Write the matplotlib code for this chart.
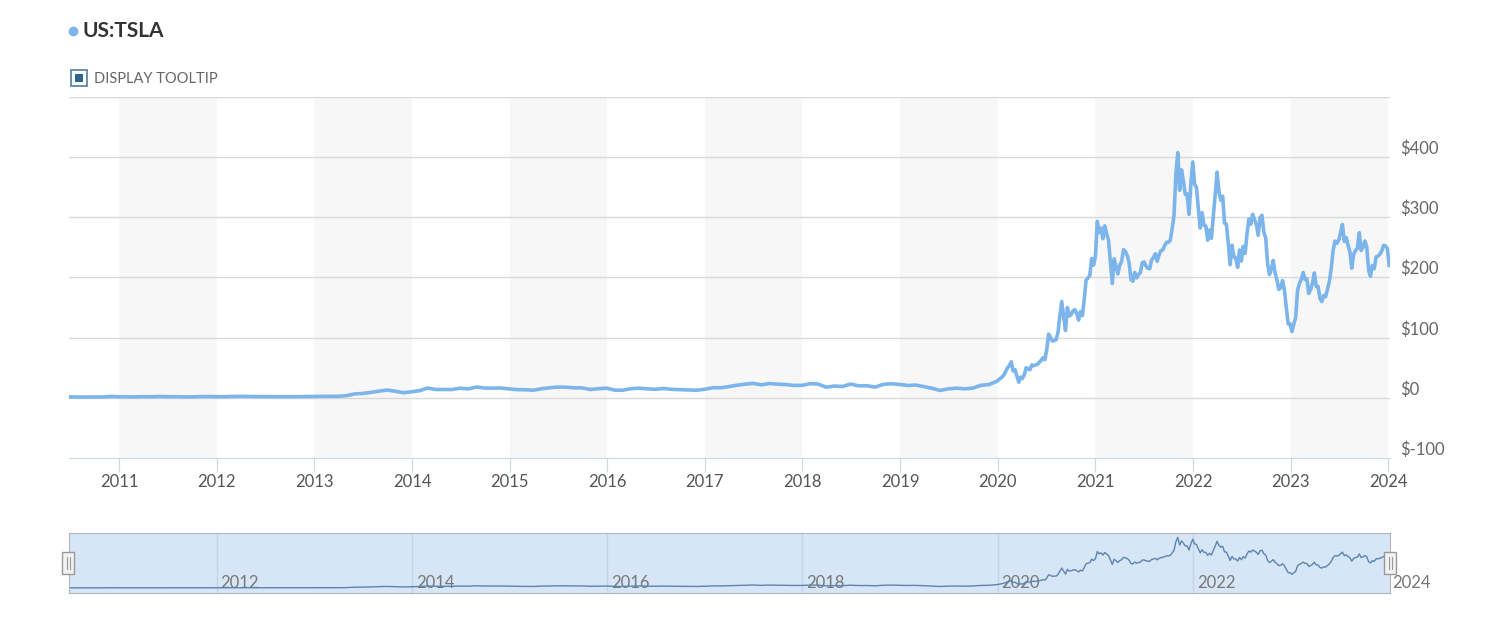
import pandas as pd
import matplotlib.pyplot as plt
import matplotlib.transforms as mtransforms
from matplotlib.patches import Rectangle
from matplotlib.lines import Line2D

plt.rcParams['font.family'] = ['Lato', 'DejaVu Sans']

# TSLA closing price (split adjusted)
# monthly, Jun 2010 - Dec 2019
monthly_prices = [
    1.6, 1.3, 1.3, 1.4, 1.4, 2.3, 1.8,
    1.6, 1.6, 1.9, 1.8, 2.2, 1.9, 1.9, 1.6, 1.6, 2.0, 2.2, 1.9,
    1.9, 2.2, 2.5, 2.2, 2.0, 2.1, 1.9, 1.9, 1.9, 1.9, 2.1, 2.3,
    2.5, 2.5, 2.5, 3.5, 6.5, 7.2, 9.0, 11.2, 12.9, 11.0, 8.5, 10.0,
    12.1, 16.3, 13.9, 13.9, 13.8, 16.0, 14.9, 18.0, 16.2, 16.1, 16.3, 14.8,
    13.6, 13.5, 12.6, 15.1, 16.7, 17.9, 17.7, 16.6, 16.6, 13.8, 15.3, 16.0,
    12.7, 12.7, 15.3, 16.0, 14.9, 14.2, 15.5, 14.1, 13.6, 13.2, 12.6, 14.2,
    16.9, 16.7, 18.6, 20.9, 22.7, 24.1, 21.6, 23.8, 22.7, 22.1, 20.6, 20.8,
    23.6, 22.9, 17.7, 19.6, 18.9, 22.9, 19.9, 20.1, 17.7, 22.5, 23.4, 22.2,
    20.5, 21.3, 18.7, 15.9, 12.3, 14.9, 16.1, 15.0, 16.1, 20.9, 22.0, 27.9,
]

# weekly (Fridays) from 2020 on
prices_2020 = [
    29.5, 31.9, 34.3, 37.7, 43.4,
    49.9, 53.7, 60.0, 44.5,
    46.8, 36.4, 26.0, 34.3,
    32.0, 38.6, 50.1, 48.3,
    46.8, 54.6, 53.3, 54.8, 55.7,
    59.0, 62.4, 66.7, 63.6,
    80.6, 106.0, 100.1, 94.5, 95.4,
    96.6, 109.0, 136.7, 160.0,
    135.0, 112.0, 150.0, 135.8,
    138.4, 144.3, 146.6, 140.2, 129.3,
    143.3, 136.4, 163.2, 195.3,
    199.3, 203.3, 231.7, 220.6,
]
prices_2021 = [
    235.2, 293.3, 274.6, 282.2, 264.5,
    285.9, 272.8, 261.8, 225.2,
    190.0, 231.2, 218.3, 206.2,
    220.6, 226.8, 246.3, 243.3, 236.5,
    224.1, 196.6, 193.7, 208.4,
    199.3, 204.9, 207.9, 224.5,
    226.0, 218.9, 215.3, 214.7, 229.1,
    233.0, 239.5, 226.9, 237.7,
    244.7, 245.6, 253.0, 258.5,
    258.4, 261.8, 281.0, 303.2, 371.3,
    407.4, 345.0, 379.0, 360.6,
    338.3, 339.0, 305.0, 354.9, 392.0,
]
prices_2022 = [
    355.0, 349.9, 314.6, 282.1,
    307.8, 286.7, 285.7, 262.0,
    279.0, 265.1, 302.4, 336.9,
    375.0, 343.0, 328.3, 335.0, 290.3,
    288.5, 256.5, 221.3, 253.7,
    234.0, 232.7, 216.8, 245.7,
    227.3, 251.9, 240.1, 272.2, 297.1,
    288.2, 305.0, 296.7, 288.1,
    270.2, 299.7, 303.4, 275.3, 265.3,
    223.1, 205.0, 214.4, 228.5,
    207.5, 195.9, 180.2, 182.9,
    194.9, 179.1, 150.2, 123.2, 123.2,
]
prices_2023 = [
    110.0, 122.4, 133.4, 177.9,
    190.0, 196.9, 208.3, 196.9,
    197.8, 173.4, 180.1, 190.4, 207.5,
    185.0, 185.0, 165.1, 160.0,
    170.1, 168.0, 180.1, 193.2,
    214.0, 244.4, 260.5, 256.6, 261.8,
    274.4, 288.0, 260.0, 266.4,
    253.9, 242.7, 215.5, 238.6,
    245.0, 248.5, 274.4, 244.9, 250.2,
    260.5, 251.1, 212.0, 202.0,
    220.0, 214.7, 234.3, 235.5,
    238.8, 243.8, 253.5, 252.5, 248.5,
]
prices_2024 = [220.0]

dates = (list(pd.date_range('2010-06-30', periods=len(monthly_prices), freq='ME'))
         + list(pd.date_range('2020-01-03', periods=len(prices_2020), freq='7D'))
         + list(pd.date_range('2021-01-01', periods=len(prices_2021), freq='7D'))
         + list(pd.date_range('2022-01-07', periods=len(prices_2022), freq='7D'))
         + list(pd.date_range('2023-01-06', periods=len(prices_2023), freq='7D'))
         + list(pd.date_range('2024-01-05', periods=len(prices_2024), freq='7D')))
prices = monthly_prices + prices_2020 + prices_2021 + prices_2022 + prices_2023 + prices_2024

years = list(range(2011, 2025))
nav_years = list(range(2012, 2025, 2))
price_ticks = [-100, 0, 100, 200, 300, 400, 500]

W, H = 1498, 624


def fx(px):
    return px / W


def fy(py):
    return 1 - py / H


fig = plt.figure(figsize=(W / 100, H / 100), dpi=100)
x_min, x_max = pd.Timestamp('2010-06-28'), pd.Timestamp('2024-01-08')

# main chart
ax = fig.add_axes([fx(69), fy(458), (1390 - 69) / W, (458 - 97) / H])
for y in range(2011, 2024, 2):
    ax.axvspan(pd.Timestamp(f'{y}-01-01'), pd.Timestamp(f'{y + 1}-01-01'),
               color='#f7f7f7', zorder=0.1, lw=0)
for t in price_ticks[1:]:
    ax.axhline(t, color='#d9d9d9', lw=1, zorder=0.3)
ax.plot(dates, prices, color='#7cb5ec', lw=2.6, solid_joinstyle='round', zorder=3)
ax.set_xlim(x_min, x_max)
ax.set_ylim(-100, 500)
for s in ['top', 'left', 'right']:
    ax.spines[s].set_visible(False)
ax.spines['bottom'].set_color('#ccd6eb')
ax.set_xticks([pd.Timestamp(f'{y}-01-01') for y in years])
ax.set_xticklabels([str(y) for y in years])
ax.tick_params(axis='x', length=10, color='#ccd6eb', pad=1.5, labelsize=12, labelcolor='#555555')
ax.set_yticks(price_ticks)
ax.set_yticklabels([f'${t}' for t in price_ticks[:-1]] + [''])
ax.yaxis.tick_right()
ax.tick_params(axis='y', length=0, pad=7, labelsize=12, labelcolor='#666666')
for lab in ax.get_yticklabels():
    lab.set_verticalalignment('bottom')

# navigator
nav = fig.add_axes([fx(69), fy(593), (1390 - 69) / W, (593 - 533) / H])
nav.set_facecolor('#d7e6f6')
for y in nav_years[:-1]:
    nav.axvline(pd.Timestamp(f'{y}-01-01'), color='#c4d4e6', lw=1, zorder=0.5)
nav.plot(dates, prices, color='#5b84b1', lw=1, zorder=2)
nav.set_xlim(x_min, x_max)
nav.set_ylim(-40, 442)
nav.set_xticks([])
nav.set_yticks([])
for s in nav.spines.values():
    s.set_color('#b5b5b5')
lab_tr = mtransforms.offset_copy(nav.get_xaxis_transform(), fig=fig, x=4, y=5, units='dots')
for y in nav_years:
    nav.text(pd.Timestamp(f'{y}-01-01'), 0, str(y), transform=lab_tr, ha='left', va='baseline',
             fontsize=12, color='#777777', clip_on=False, zorder=1)

# navigator handles
for cx in [68, 1390]:
    fig.add_artist(Rectangle((fx(cx - 6), fy(574)), 12 / W, 22 / H, transform=fig.transFigure,
                             facecolor='#f2f2f2', edgecolor='#999999', lw=1))
    for dx in [-1.5, 1.5]:
        fig.add_artist(Line2D([fx(cx + dx)] * 2, [fy(569), fy(557)], transform=fig.transFigure,
                              color='#999999', lw=0.8))

# header
fig.add_artist(Line2D([fx(73)], [fy(31)], marker='o', ms=6, color='#7cb5ec',
                      transform=fig.transFigure))
fig.text(fx(83), fy(31), 'US:TSLA', fontsize=15, fontweight='bold', color='#333333', va='center')
fig.add_artist(Rectangle((fx(71), fy(86)), 16 / W, 16 / H, transform=fig.transFigure,
                         facecolor='white', edgecolor='#4f7fa3', lw=1.2))
fig.add_artist(Rectangle((fx(75), fy(82)), 8 / W, 8 / H, transform=fig.transFigure,
                         facecolor='#2f6390', edgecolor='none'))
fig.text(fx(94), fy(79), 'DISPLAY TOOLTIP', fontsize=10.5, color='#666666', va='center')

fig.savefig('out.png', dpi=100)
